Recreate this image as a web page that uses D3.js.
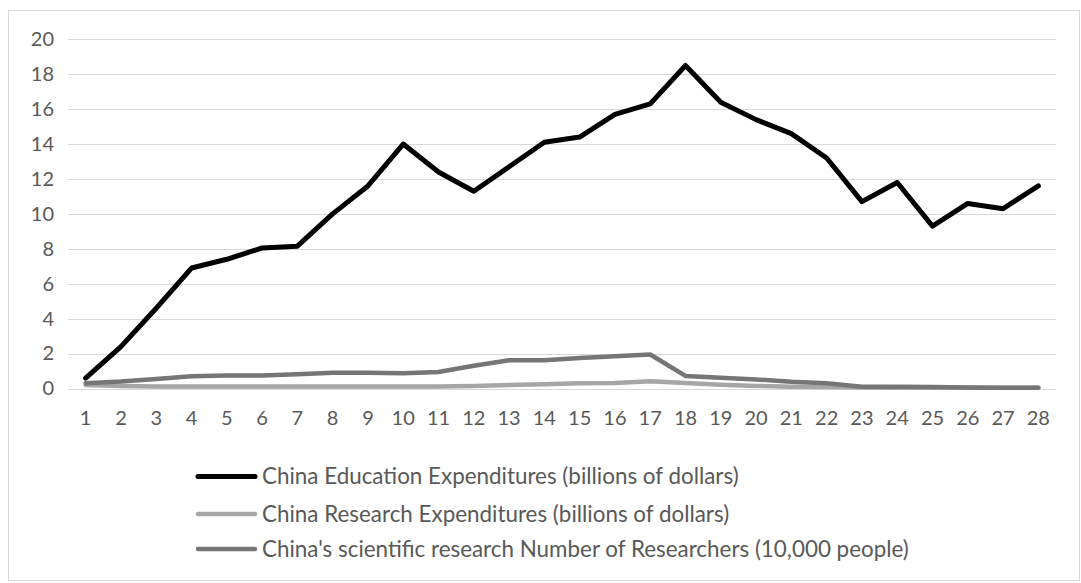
<!DOCTYPE html>
<html>
<head>
<meta charset="utf-8">
<script src="https://cdn.jsdelivr.net/npm/d3@7"></script>
<style>
  html, body { margin: 0; padding: 0; background: #fff; }
  svg { display: block; }
  text { font-family: Lato, "Open Sans", sans-serif; fill: #595959; }
</style>
</head>
<body>
<svg id="chart" width="1081" height="583"></svg>
<script>
const categories = d3.range(1, 29).map(String);
const yTicks = [0, 2, 4, 6, 8, 10, 12, 14, 16, 18, 20];

const seriesNames = [
  "China Education Expenditures (billions of dollars)",
  "China Research Expenditures (billions of dollars)",
  "China's scientific research Number of Researchers (10,000 people)"
];

const education = [0.6, 2.4, 4.6, 6.9, 7.4, 8.05, 8.15, 10.0, 11.6, 14.0, 12.4, 11.3, 12.7, 14.1,
                   14.4, 15.7, 16.3, 18.5, 16.4, 15.4, 14.6, 13.2, 10.7, 11.8, 9.3, 10.6, 10.3, 11.6];
const research = [0.2, 0.15, 0.12, 0.12, 0.12, 0.12, 0.12, 0.12, 0.12, 0.12, 0.12, 0.15, 0.2, 0.25,
                  0.3, 0.32, 0.42, 0.32, 0.22, 0.15, 0.1, 0.08, 0.06, 0.05, 0.05, 0.04, 0.04, 0.04];
const researchers = [0.3, 0.4, 0.55, 0.7, 0.75, 0.75, 0.82, 0.9, 0.9, 0.88, 0.95, 1.3, 1.62, 1.62,
                     1.75, 1.85, 1.95, 0.72, 0.62, 0.52, 0.38, 0.3, 0.1, 0.1, 0.08, 0.06, 0.05, 0.05];

const seriesValues = [education, research, researchers];
const seriesColors = ["#000000", "#a6a6a6", "#767676"];
const seriesWidths = [5, 4.5, 4.5];

const svg = d3.select("#chart");

// outer frame
svg.append("rect")
  .attr("x", 8.5).attr("y", 10.5).attr("width", 1071).attr("height", 570)
  .attr("fill", "#fff").attr("stroke", "#d9d9d9").attr("stroke-width", 1);

const x = d3.scaleBand().domain(categories).range([68, 1056]);
const y = d3.scaleLinear().domain([0, 20]).range([388.5, 39.3]);

// gridlines
svg.append("g").selectAll("line").data(yTicks).join("line")
  .attr("x1", 68).attr("x2", 1056)
  .attr("y1", d => Math.round(y(d)) + 0.5).attr("y2", d => Math.round(y(d)) + 0.5)
  .attr("stroke", "#d9d9d9").attr("stroke-width", 1.2);

// y axis labels
const yAxis = d3.axisLeft(y).tickValues(yTicks).tickSize(0).tickPadding(0);
const gy = svg.append("g").attr("transform", "translate(54,0)").call(yAxis);
gy.select(".domain").remove();
gy.selectAll("text").attr("font-size", 20).attr("fill", "#595959")
  .style("font-family", "Lato, 'Open Sans', sans-serif");

// x axis labels
const xAxis = d3.axisBottom(x).tickSize(0).tickPadding(0);
const gx = svg.append("g").attr("transform", "translate(0,411)").call(xAxis);
gx.select(".domain").remove();
gx.selectAll("text").attr("font-size", 20).attr("fill", "#595959")
  .style("font-family", "Lato, 'Open Sans', sans-serif");

// lines
const line = d3.line()
  .x((d, i) => x(categories[i]) + x.bandwidth() / 2)
  .y(d => y(d));

seriesValues.forEach((vals, k) => {
  svg.append("path")
    .datum(vals)
    .attr("fill", "none")
    .attr("stroke", seriesColors[k])
    .attr("stroke-width", seriesWidths[k])
    .attr("stroke-linejoin", "round")
    .attr("stroke-linecap", "round")
    .attr("d", line);
});

// legend
const legendY = [476.5, 514, 549];
const lg = svg.append("g");
seriesNames.forEach((name, k) => {
  lg.append("line")
    .attr("x1", 198).attr("x2", 255)
    .attr("y1", legendY[k]).attr("y2", legendY[k])
    .attr("stroke", seriesColors[k]).attr("stroke-width", seriesWidths[k])
    .attr("stroke-linecap", "round");
  lg.append("text")
    .attr("x", 262).attr("y", legendY[k])
    .attr("dy", "0.35em")
    .attr("font-size", 22.4)
    .text(name);
});
</script>
</body>
</html>
